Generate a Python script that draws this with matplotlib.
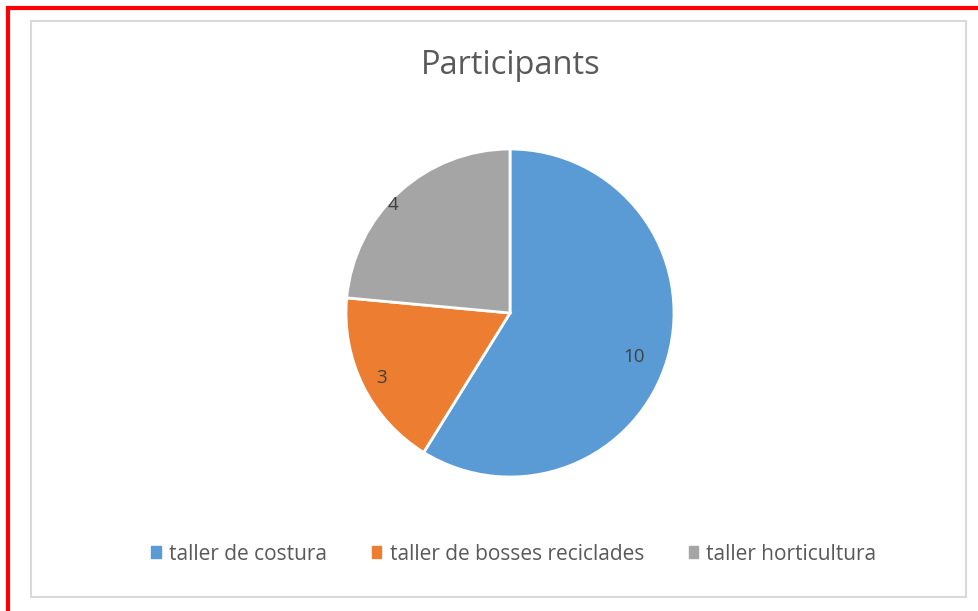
import numpy as np
import matplotlib
matplotlib.use("Agg")
import matplotlib.pyplot as plt
from matplotlib.patches import Rectangle

# data
categories = ["taller de costura", "taller de bosses reciclades", "taller horticultura"]
values = [10, 3, 4]
colors = ["#5B9BD5", "#ED7D31", "#A5A5A5"]
title = "Participants"

W, H = 979, 611
plt.rcParams["font.family"] = ["Open Sans", "DejaVu Sans"]
fig = plt.figure(figsize=(W / 100, H / 100), dpi=100)

def px(x0, y0, w, h):
    # pixel box (top-left origin) -> figure fraction
    return [x0 / W, 1 - (y0 + h) / H, w / W, h / H]

# outer red frame and inner grey chart border
fig.patches.append(Rectangle((8 / W, -0.05), 1.1, 1 - 8 / H + 0.05, transform=fig.transFigure,
                             fill=False, edgecolor="#FF0000", linewidth=3, zorder=0))
fig.patches.append(Rectangle((31 / W, 1 - 597 / H), (966 - 31) / W, (597 - 21) / H,
                             transform=fig.transFigure, fill=False, edgecolor="#D9D9D9",
                             linewidth=1.5, zorder=0))

cx, cy, r = 510, 313, 164
ax = fig.add_axes(px(cx - r, cy - r, 2 * r, 2 * r))
wedges, _ = ax.pie(values, colors=colors, startangle=90, counterclock=False, radius=1,
                   wedgeprops=dict(edgecolor="white", linewidth=2))
ax.set_xlim(-1, 1)
ax.set_ylim(-1, 1)
ax.set_aspect("equal")
ax.axis("off")

# data labels: (radius fraction, angle nudge in degrees) per slice
label_pos = [(0.80, -3.6), (0.875, 0.4), (0.97, 4.9)]
for w, v, (lr, dt) in zip(wedges, values, label_pos):
    ang = np.deg2rad((w.theta1 + w.theta2) / 2 + dt)
    ax.text(lr * np.cos(ang), lr * np.sin(ang), str(v), ha="center", va="center",
            fontsize=13.5, color="#404040")

fig.text(511 / W, 1 - 65 / H, title, ha="center", va="center", fontsize=23.5, color="#595959")

handles = [plt.Rectangle((0, 0), 1, 1, color=c) for c in colors]
fig.legend(handles, categories, loc="center", bbox_to_anchor=(514 / W, 1 - 554 / H), ncol=3,
           frameon=False, fontsize=15, handlelength=0.45, handleheight=0.45, handletextpad=0.4,
           columnspacing=2.15, labelcolor="#595959")

fig.savefig("out.png", dpi=100)
